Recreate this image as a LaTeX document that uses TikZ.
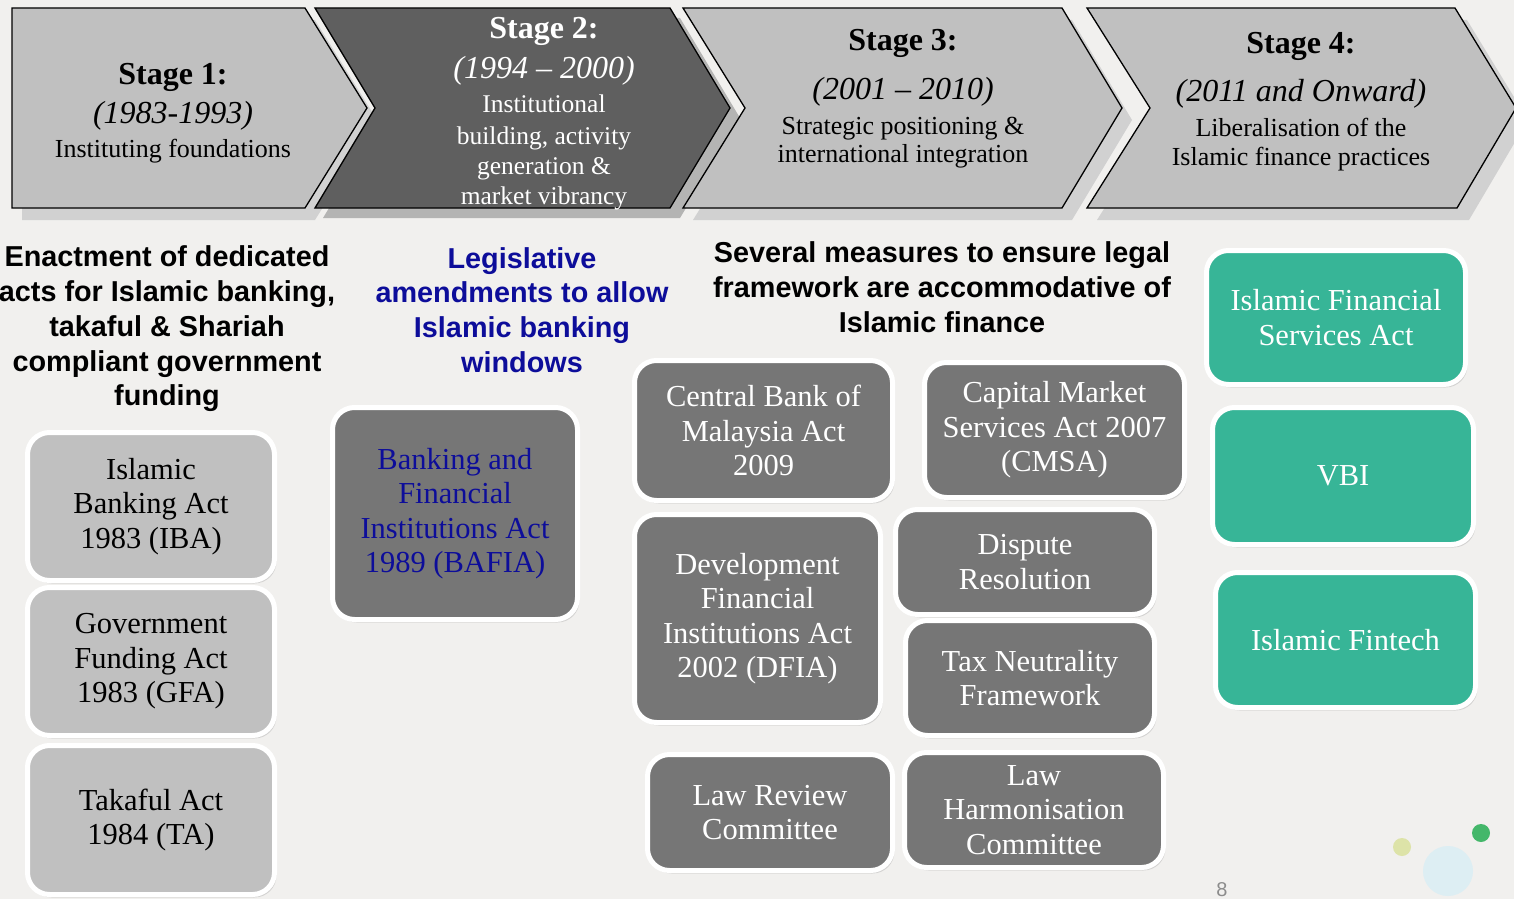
\documentclass[tikz,border=0pt]{standalone}
\usepackage{fontspec}
\setmainfont{Liberation Serif}
\setsansfont{Liberation Sans}
\usepackage{tikz}
\usetikzlibrary{shadows}

\definecolor{slidebg}{HTML}{F1F0EE}
\definecolor{stagelight}{HTML}{C0C0C0}
\definecolor{stagedark}{HTML}{5F5F5F}
\definecolor{boxlight}{HTML}{C0C0C0}
\definecolor{boxdark}{HTML}{767676}
\definecolor{boxteal}{HTML}{37B597}
\definecolor{legisblue}{HTML}{0D0D9A}
\definecolor{dotyellow}{HTML}{DDE3A8}
\definecolor{dotgreen}{HTML}{44B76A}
\definecolor{dotblue}{HTML}{DDEEF3}

\newcommand{\boxfont}{\fontsize{30.5}{34.5}\selectfont}
\newcommand{\headfont}{\sffamily\bfseries\fontsize{28.8}{34.8}\selectfont}
\newcommand{\stagehead}{\bfseries\fontsize{32}{30}\selectfont}
\newcommand{\stageyear}{\itshape\fontsize{32}{30}\selectfont}

\begin{document}
\begin{tikzpicture}
		[x=1pt, y=-1pt,
		stagearrow/.style={draw=black, line width=1.3pt, line join=miter},
		stageshadow/.style={fill=black!18, draw=none},
		stagetext/.style={align=center, inner sep=0pt},
		actbox/.style={rectangle, rounded corners=22pt, draw=white, line width=5pt,
			align=center, inner sep=2pt, font=\boxfont,
			drop shadow={shadow xshift=2pt, shadow yshift=-3pt, opacity=.25}},
		greybox/.style={actbox, fill=boxlight, text=black},
		darkbox/.style={actbox, fill=boxdark, text=white},
		tealbox/.style={actbox, fill=boxteal, text=white},
		boxdim/.style 2 args={minimum width=#1pt, minimum height=#2pt},
		heading/.style={align=center, font=\headfont, inner sep=0pt},
		]
		\fill[slidebg] (0,0) rectangle (1514,899);
		\useasboundingbox (0,0) rectangle (1514,899);
		
		% stage chevrons, shadows first
		\fill[stageshadow] (22,20) -- (315,20) -- (377,120) -- (315,220) -- (22,220) -- cycle;
		\fill[black!45, opacity=.6] (323,18) -- (680,18) -- (740,118) -- (680,218) -- (323,218) -- (383,118) -- cycle;
		\fill[stageshadow] (693,20) -- (1072,20) -- (1132,120) -- (1072,220) -- (693,220) -- (755,120) -- cycle;
		\fill[stageshadow] (1097,20) -- (1467,20) -- (1528,120) -- (1469,220) -- (1097,220) -- (1160,120) -- cycle;
		
		\draw[stagearrow, fill=stagelight] (12,8) -- (305,8) -- (367,108) -- (305,208) -- (12,208) -- cycle;
		\draw[stagearrow, fill=stagedark] (315,8) -- (670,8) -- (730,108) -- (670,208) -- (315,208) -- (375,108) -- cycle;
		\draw[stagearrow, fill=stagelight] (683,8) -- (1062,8) -- (1122,108) -- (1062,208) -- (683,208) -- (745,108) -- cycle;
		\draw[stagearrow, fill=stagelight] (1087,8) -- (1455,8) -- (1516,108) -- (1457,208) -- (1087,208) -- (1150,108) -- cycle;
		
		\node[stagetext, font=\fontsize{26}{30}\selectfont] (stage1) at (173,113)
			{{\stagehead Stage 1:}\\[9pt]{\stageyear (1983-1993)}\\[4pt]Instituting foundations};
		\node[stagetext, text=white, font=\fontsize{25.5}{30}\selectfont] (stage2) at (544,114)
			{{\stagehead Stage 2:}\\[10pt]{\stageyear (1994 -- 2000)}\\[4pt]Institutional\\[2pt]building, activity\\generation \&\\market vibrancy};
		\node[stagetext, font=\fontsize{26}{29}\selectfont] (stage3) at (903,99)
			{{\stagehead Stage 3:}\\[19pt]{\stageyear (2001 -- 2010)}\\[6pt]Strategic positioning \&\\[-1pt]international integration};
		\node[stagetext, font=\fontsize{26}{29}\selectfont] (stage4) at (1301,102)
			{{\stagehead Stage 4:}\\[18pt]{\stageyear (2011 and Onward)}\\[6pt]Liberalisation of the\\Islamic finance practices};
		
		% headings
		\node[heading] (head1) at (167,329) {Enactment of dedicated\\acts for Islamic banking,\\takaful \& Shariah\\compliant government\\funding};
		\node[heading, text=legisblue] (head2) at (522,310) {Legislative\\amendments to allow\\Islamic banking\\windows};
		\node[heading] (head3) at (942,287) {Several measures to ensure legal\\framework are accommodative of\\Islamic finance};
		
		% stage 1 acts
		\node[greybox, boxdim={247}{148}] (iba) at (151,506.5) {Islamic\\Banking Act\\1983 (IBA)};
		\node[greybox, boxdim={247}{148}] (gfa) at (151,661.5) {Government\\Funding Act\\1983 (GFA)};
		\node[greybox, boxdim={247}{149}] (ta) at (151,820) {Takaful Act\\1984 (TA)};
		
		% stage 2
		\node[darkbox, text=legisblue, boxdim={245}{212}] (bafia) at (455,513.5) {Banking and\\Financial\\Institutions Act\\1989 (BAFIA)};
		
		% stage 3
		\node[darkbox, boxdim={258}{140}] (cbma) at (763.5,430.5) {Central Bank of\\Malaysia Act\\2009};
		\node[darkbox, boxdim={260}{135}] (cmsa) at (1054.5,430) {Capital Market\\Services Act 2007\\(CMSA)};
		\node[darkbox, boxdim={246}{208}] (dfia) at (757.5,618.5) {Development\\Financial\\Institutions Act\\2002 (DFIA)};
		\node[darkbox, boxdim={259}{105}] (dispute) at (1025,562) {Dispute\\Resolution};
		\node[darkbox, boxdim={249}{115}] (tax) at (1030,678) {Tax Neutrality\\Framework};
		\node[darkbox, boxdim={245}{116}] (lrc) at (770,812.5) {Law Review\\Committee};
		\node[darkbox, boxdim={259}{115}] (lhc) at (1034,810) {Law\\Harmonisation\\Committee};
		
		% stage 4
		\node[tealbox, boxdim={259}{134}] (ifsa) at (1336,317.5) {Islamic Financial\\Services Act};
		\node[tealbox, boxdim={261}{137}] (vbi) at (1343,476) {VBI};
		\node[tealbox, boxdim={260}{135}] (fintech) at (1345.5,640) {Islamic Fintech};
		
		% slide decoration
		\fill[dotblue] (1448,871) circle (25pt);
		\fill[dotyellow] (1402,847) circle (9pt);
		\fill[dotgreen] (1481,833) circle (9pt);
		\node[text=black!45, font=\sffamily\fontsize{20}{20}\selectfont] (pagenum) at (1222,890) {8};
		
\end{tikzpicture}
\end{document}
